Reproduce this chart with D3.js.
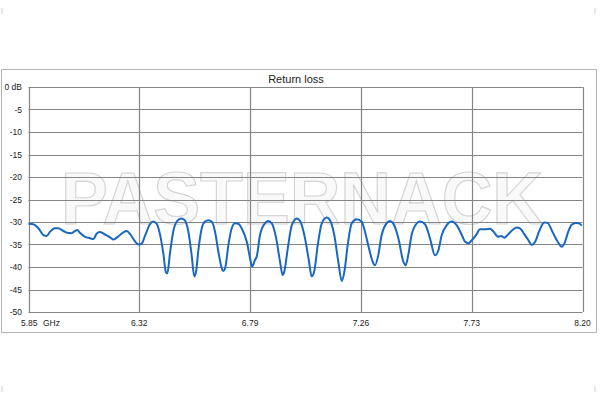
<!DOCTYPE html>
<html>
<head>
<meta charset="utf-8">
<script src="https://cdn.jsdelivr.net/npm/d3@7"></script>
<style>
  html, body { margin: 0; padding: 0; background: #fff; }
  svg { display: block; }
  text { font-family: "Liberation Sans", Arial, sans-serif; fill: #222; }
</style>
</head>
<body>
<svg id="chart" width="600" height="400"></svg>
<script>
// ---- data ----
const chartTitle = "Return loss";
const watermark = "PASTERNACK";
const xTicks = [5.85, 6.32, 6.79, 7.26, 7.73, 8.20];
const xTickLabels = ["5.85", "6.32", "6.79", "7.26", "7.73", "8.20"];
const xUnit = "GHz";
const yTicks = [0, -5, -10, -15, -20, -25, -30, -35, -40, -45, -50];
const yTickLabels = ["0 dB", "-5", "-10", "-15", "-20", "-25", "-30", "-35", "-40", "-45", "-50"];

const freqGHz = [
  5.850, 5.870, 5.892, 5.913, 5.927, 5.941, 5.962, 5.976, 5.998, 6.013,
  6.033, 6.047, 6.057, 6.068, 6.090, 6.111, 6.125, 6.139, 6.153, 6.166,
  6.182, 6.196, 6.210, 6.231, 6.252, 6.267, 6.281, 6.302, 6.316, 6.330,
  6.344, 6.365, 6.379, 6.394, 6.408, 6.422, 6.433, 6.439, 6.450, 6.464,
  6.479, 6.497, 6.511, 6.528, 6.542, 6.553, 6.561, 6.570, 6.585, 6.599,
  6.613, 6.627, 6.641, 6.655, 6.670, 6.676, 6.684, 6.698, 6.712, 6.726,
  6.740, 6.754, 6.776, 6.790, 6.799, 6.811, 6.818, 6.832, 6.853, 6.867,
  6.882, 6.899, 6.917, 6.928, 6.935, 6.950, 6.967, 6.988, 7.002, 7.020,
  7.040, 7.051, 7.062, 7.077, 7.094, 7.115, 7.129, 7.147, 7.164, 7.179,
  7.190, 7.204, 7.221, 7.242, 7.263, 7.277, 7.294, 7.313, 7.320, 7.334,
  7.348, 7.369, 7.383, 7.397, 7.419, 7.440, 7.450, 7.461, 7.475, 7.497,
  7.511, 7.532, 7.553, 7.574, 7.588, 7.603, 7.624, 7.645, 7.666, 7.688,
  7.702, 7.716, 7.730, 7.751, 7.765, 7.786, 7.808, 7.822, 7.843, 7.854,
  7.868, 7.885, 7.907, 7.921, 7.935, 7.953, 7.970, 7.985, 7.999, 8.016,
  8.038, 8.052, 8.072, 8.095, 8.112, 8.123, 8.140, 8.154, 8.171, 8.185,
  8.197
];
const returnLossDb = [
  -30.4, -30.5, -31.4, -32.9, -33.1, -32.2, -31.4, -31.4, -32.0, -32.4,
  -32.5, -32.0, -31.8, -32.4, -33.3, -33.6, -33.8, -32.6, -32.2, -32.5,
  -33.0, -33.4, -33.9, -33.2, -32.3, -32.0, -32.7, -34.3, -35.0, -34.8,
  -33.1, -30.5, -29.9, -30.4, -32.8, -37.0, -41.2, -41.4, -37.0, -32.1,
  -29.9, -29.2, -29.5, -32.1, -37.3, -42.1, -41.0, -36.5, -31.4, -29.9,
  -29.6, -29.9, -32.1, -36.5, -40.3, -40.9, -40.3, -35.1, -31.4, -30.3,
  -30.4, -31.4, -34.4, -38.1, -39.9, -38.4, -37.7, -32.9, -30.3, -29.8,
  -30.3, -33.2, -38.8, -41.8, -41.0, -35.8, -30.7, -29.2, -29.8, -32.9,
  -38.8, -42.1, -41.0, -35.1, -30.3, -29.0, -29.6, -32.9, -38.8, -43.1,
  -41.0, -35.1, -30.3, -29.4, -29.9, -32.1, -35.8, -39.2, -39.6, -37.3,
  -32.9, -30.3, -29.8, -30.3, -33.6, -38.8, -39.6, -37.3, -32.9, -30.3,
  -29.9, -30.5, -33.6, -37.4, -36.4, -32.9, -30.7, -29.9, -30.7, -32.9,
  -34.4, -34.7, -34.1, -32.7, -31.6, -31.6, -31.5, -32.1, -33.3, -33.1,
  -33.5, -32.7, -31.6, -31.2, -31.4, -32.7, -34.0, -35.1, -34.4, -32.1,
  -30.1, -30.2, -32.1, -34.4, -35.5, -34.8, -32.1, -30.6, -30.2, -30.3,
  -30.8
];

// ---- layout ----
const svg = d3.select("#chart");
const plot = { left: 28.5, right: 582.5, top: 87, bottom: 312 };

const x = d3.scaleLinear().domain([5.85, 8.20]).range([plot.left, plot.right]);
const y = d3.scaleLinear().domain([-50, 0]).range([plot.bottom, plot.top]);

// corner crop marks
const marks = [[2, 8, 2, 14], [595, 8, 595, 14], [2, 386, 2, 392], [595, 386, 595, 392]];
svg.selectAll("line.mark").data(marks).join("line")
  .attr("x1", d => d[0]).attr("y1", d => d[1]).attr("x2", d => d[2]).attr("y2", d => d[3])
  .attr("stroke", "#d0d0d0").attr("stroke-width", 1);

// outer frame
svg.append("rect")
  .attr("x", 1.5).attr("y", 69.5).attr("width", 595).attr("height", 263)
  .attr("fill", "#fff").attr("stroke", "#b4b4b4").attr("stroke-width", 1);

// title
svg.append("text")
  .attr("x", 296).attr("y", 83)
  .attr("text-anchor", "middle")
  .style("font-size", "11px")
  .text(chartTitle);

// watermark
svg.append("text")
  .attr("x", 61).attr("y", 224)
  .attr("textLength", 482).attr("lengthAdjust", "spacingAndGlyphs")
  .style("font-size", "74px")
  .style("font-weight", "bold")
  .style("font-family", "'Liberation Sans', Arial, sans-serif")
  .style("fill", "#f9f9f9")
  .style("stroke", "#d4d4d4")
  .style("stroke-width", "1.2px")
  .text(watermark);

// gridlines
const grid = svg.append("g");
grid.selectAll("line.h").data(yTicks).join("line")
  .attr("x1", plot.left).attr("x2", plot.right)
  .attr("y1", d => Math.round(y(d)) + 0.5).attr("y2", d => Math.round(y(d)) + 0.5)
  .attr("stroke", "#858585").attr("stroke-width", 1.2);
grid.selectAll("line.v").data(xTicks).join("line")
  .attr("x1", d => Math.round(x(d)) + 0.5).attr("x2", d => Math.round(x(d)) + 0.5)
  .attr("y1", plot.top).attr("y2", plot.bottom)
  .attr("stroke", "#858585").attr("stroke-width", 1.2);

// y labels
svg.selectAll("text.ylab").data(yTicks).join("text")
  .attr("class", "ylab")
  .attr("x", 22).attr("y", d => y(d) + 3)
  .attr("text-anchor", "end")
  .style("font-size", "8.5px")
  .text((d, i) => yTickLabels[i]);

// x labels
svg.selectAll("text.xlab").data(xTicks).join("text")
  .attr("class", "xlab")
  .attr("x", (d, i) => i === 0 ? 21 : x(d))
  .attr("y", 326)
  .attr("text-anchor", (d, i) => i === 0 ? "start" : "middle")
  .style("font-size", "8.5px")
  .text((d, i) => xTickLabels[i]);
svg.append("text")
  .attr("x", 43).attr("y", 326)
  .style("font-size", "8.5px")
  .text(xUnit);

// curve
const pts = freqGHz.map((f, i) => [f, returnLossDb[i]]);
const line = d3.line()
  .x(d => x(d[0]))
  .y(d => y(d[1]))
  .curve(d3.curveMonotoneX);
svg.append("path")
  .datum(pts)
  .attr("d", line)
  .attr("fill", "none")
  .attr("stroke", "#1767c3")
  .attr("stroke-width", 2)
  .attr("stroke-linejoin", "round");
</script>
</body>
</html>
